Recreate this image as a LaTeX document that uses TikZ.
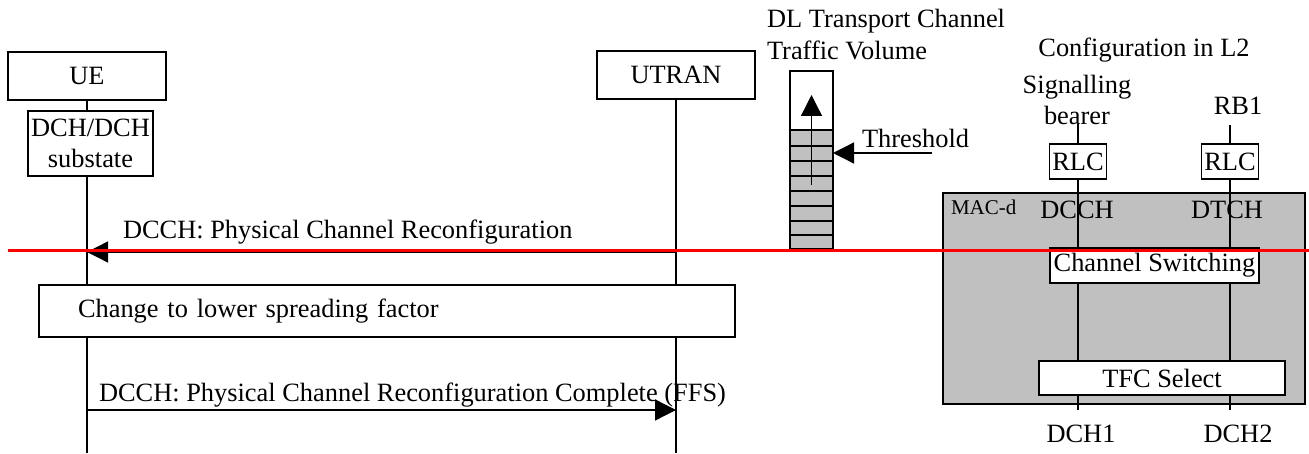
\documentclass[tikz,border=0pt]{standalone}
\usepackage{fontspec}
\setmainfont{Liberation Serif}
\usetikzlibrary{arrows.meta}
\definecolor{macgrey}{RGB}{192,192,192}
\begin{document}
\begin{tikzpicture}[x=1pt,y=-1pt,
  every node/.style={font=\fontsize{26.4}{31.7}\selectfont, inner sep=0pt, outer sep=0pt},
  box/.style={draw, line width=1.6pt, fill=white},
  ln/.style={line width=1.3pt},
  arr/.style={ln, -{Triangle[length=21pt,width=21pt]}},
  lbl/.style={anchor=base west},
  small/.style={font=\fontsize{21}{25}\selectfont}]
\useasboundingbox (0,0) rectangle (1309,454);
\fill[white] (0,0) rectangle (1309,454);

% ---------- MAC-d block ----------
\node[box, fill=macgrey, minimum width=362pt, minimum height=211pt] (macd) at (1124,298.5) {};
\node[lbl, small] (macl) at (951,215) {MAC-d};
\node[anchor=base] (dcch) at (1077,219) {DCCH};
\node[anchor=base] (dtch) at (1227,219) {DTCH};

\node[box, minimum width=57pt, minimum height=35pt] (rlc1) at (1078,161.5) {RLC};
\node[box, minimum width=57pt, minimum height=35pt] (rlc2) at (1230,161.5) {RLC};
\node[box, minimum width=209pt, minimum height=35pt] (cs) at (1154.5,265.5) {Channel Switching};
\node[box, minimum width=246pt, minimum height=34pt] (tfc) at (1162,378) {TFC Select};

\node[anchor=base] (cfg) at (1144,57) {Configuration in L2};
\node[anchor=south, align=center] (sb) at (1077,125) {Signalling\\bearer};
\node[anchor=base] (rb1) at (1238,115) {RB1};
\node[anchor=base] (dch1) at (1081,442) {DCH1};
\node[anchor=base] (dch2) at (1238,442) {DCH2};

\coordinate (sbtop) at (1078,123);
\coordinate (rbtop) at (1230,125);
\coordinate (d1end) at (1078,410);
\coordinate (d2end) at (1230,410);

\draw[ln] (sbtop) -- (rlc1.north);
\draw[ln] (rlc1.south) -- (rlc1.south |- cs.north);
\draw[ln] (rlc1.south |- cs.south) -- (rlc1.south |- tfc.north);
\draw[ln] (rlc1.south |- tfc.south) -- (d1end);
\draw[ln] (rbtop) -- (rlc2.north);
\draw[ln] (rlc2.south) -- (rlc2.south |- cs.north);
\draw[ln] (rlc2.south |- cs.south) -- (rlc2.south |- tfc.north);
\draw[ln] (rlc2.south |- tfc.south) -- (d2end);

% ---------- traffic volume ----------
\node[anchor=south west, align=left] (dl) at (767,60) {DL Transport Channel\\Traffic Volume};
\fill[macgrey] (790,130) rectangle (833,249);
\foreach \yy in {130,146,161,176,191,206,221,235}
  \draw[ln] (790,\yy) -- (833,\yy);
\node[box, fill=none, minimum width=43pt, minimum height=178pt] (vol) at (811.5,160) {};
\coordinate (vua) at (811.5,185);
\coordinate (vub) at (811.5,95);
\draw[arr] (vua) -- (vub);
\node[lbl] (thr) at (862,148) {Threshold};
\coordinate (thra) at (932,153);
\draw[arr] (thra) -- (vol.east |- thra);

% ---------- sequence chart ----------
\node[box, minimum width=158pt, minimum height=48pt] (ue) at (87,76) {UE};
\node[box, minimum width=125pt, minimum height=65pt, align=center] (sub) at (90.5,143.5) {DCH/DCH\\substate};
\node[box, minimum width=158pt, minimum height=48pt] (utran) at (676,75) {UTRAN};

\coordinate (uebot) at (87,453);
\coordinate (utbot) at (676,453);
\draw[ln] (ue.south) -- (ue.south |- sub.north);
\draw[ln] (ue.south |- sub.south) -- (uebot);
\draw[ln] (utran.south) -- (utbot);

\coordinate (y1) at (0,252);
\coordinate (y2) at (0,410);
\draw[arr] (utran.south |- y1) -- (ue.south |- y1);
\node[lbl] (l1) at (123,239) {DCCH: Physical Channel Reconfiguration};

\node[box, minimum height=52pt, text width=618pt, inner xsep=39pt, align=left] (chg) at (387,311) {Change to lower spreading factor};

\draw[arr] (ue.south |- y2) -- (utran.south |- y2);
\node[lbl] (l2) at (99,401) {DCCH: Physical Channel Reconfiguration Complete (FFS)};

% ---------- red line ----------
\coordinate (rl) at (8,250.5);
\coordinate (rr) at (1309,250.5);
\draw[red, line width=2.2pt] (rl) -- (rr);
\end{tikzpicture}
\end{document}
